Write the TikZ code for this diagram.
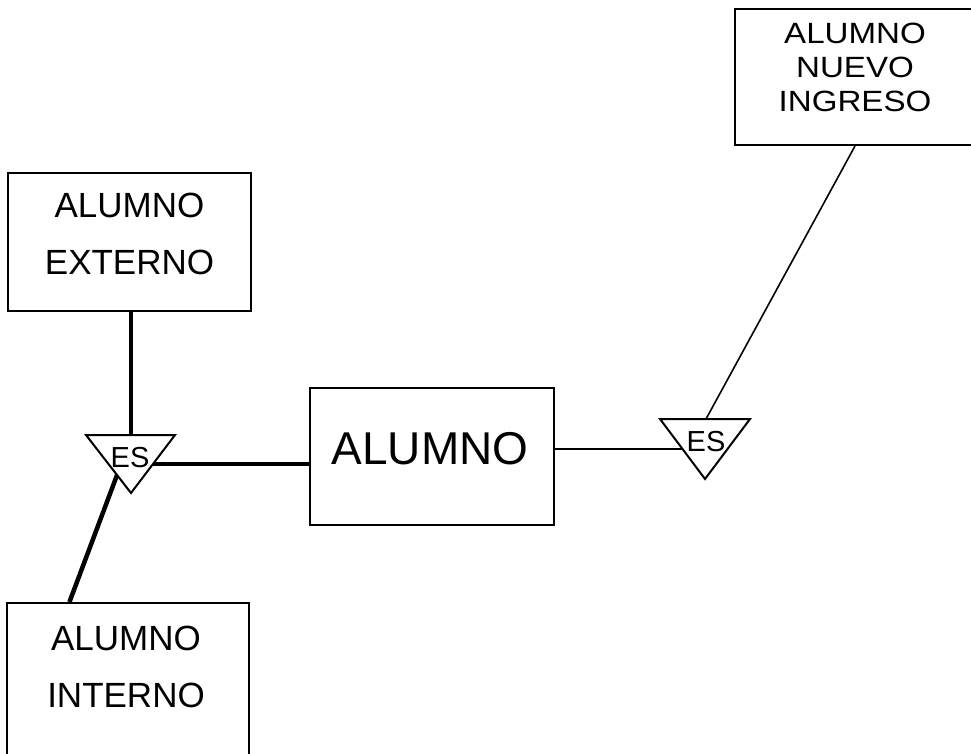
\documentclass[tikz,border=0pt]{standalone}
\usepackage{fontspec}
\setmainfont{Liberation Sans}
\newfontfamily\widefont[FakeStretch=1.13]{Liberation Sans}
\usetikzlibrary{calc}
\begin{document}
\begin{tikzpicture}[x=1pt,y=-1pt,
  box/.style={draw, line width=2pt, rectangle, inner sep=0pt},
  lbl/.style={align=center, inner sep=0pt},
  thickln/.style={line width=4.5pt},
  thinln/.style={line width=2pt},
  tri/.style={draw, line width=2pt, line join=miter},
  estext/.style={font=\fontsize{29}{29}\selectfont, inner sep=0pt}]
\useasboundingbox (0,0) rectangle (971,753);
\clip (0,0) rectangle (971,753);

% entity boxes
\node[box, minimum width=243pt, minimum height=138pt,
  label={[lbl, font=\fontsize{35}{57}\selectfont, yshift=8pt]center:{ALUMNO\\EXTERNO}}] (ext) at (129.5,242) {};
\node[box, minimum width=242pt, minimum height=153pt,
  label={[lbl, font=\fontsize{35}{57}\selectfont, yshift=13pt, xshift=-2pt]center:{ALUMNO\\INTERNO}}] (int) at (128,679.5) {};
\node[box, minimum width=244pt, minimum height=137pt,
  label={[lbl, font=\fontsize{46}{50}\selectfont, yshift=8pt, xshift=-2pt]center:{ALUMNO}}] (alum) at (432,456.5) {};
\node[box, minimum width=240pt, minimum height=136pt,
  label={[lbl, font=\widefont\fontsize{29.3}{34}\selectfont, yshift=10pt]center:{ALUMNO\\NUEVO\\INGRESO}}] (nue) at (855,77) {};

% left ES triangle
\coordinate (t1l) at (86,435);
\coordinate (t1r) at (175,435);
\coordinate (t1a) at (131,493);
\coordinate (t1top) at (131,435);
\draw[tri] (t1l) -- (t1r) -- (t1a) -- cycle;
\node[estext] (es1) at (130,458) {ES};
\coordinate (t1m) at ($(t1r)!0.5!(t1a)$);
\coordinate (t1ll) at ($(t1l)!0.69!(t1a)$);
\coordinate (intc) at ($(int.north west)!0.26!(int.north east)$);

% right ES triangle
\coordinate (t2l) at (660,419);
\coordinate (t2r) at (750,419);
\coordinate (t2a) at (705,479);
\coordinate (t2top) at (706,419);
\draw[tri] (t2l) -- (t2r) -- (t2a) -- cycle;
\node[estext] (es2) at (706,442) {ES};
\coordinate (t2m) at ($(t2l)!0.5!(t2a)$);

% connectors
\draw[thickln] (t1top |- ext.south) -- (t1top);
\draw[thickln] (t1m) -- (t1m -| alum.west);
\draw[thickln] (t1ll) -- (intc);
\draw[thinln] (alum.east |- t2m) -- (t2m);
\draw[line width=1.6pt] (nue.south) -- (t2top);
\end{tikzpicture}
\end{document}
